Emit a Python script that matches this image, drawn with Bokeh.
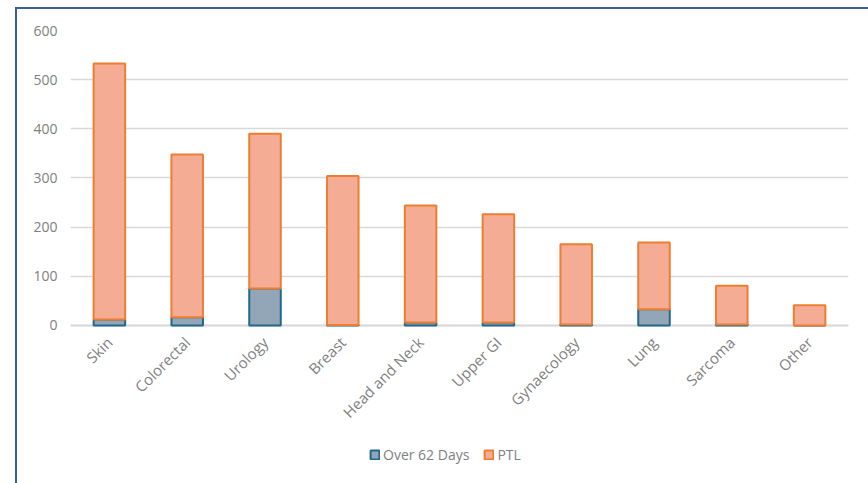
from bokeh.plotting import figure
from bokeh.models import ColumnDataSource, Legend, LegendItem, FixedTicker, Range1d
from bokeh.embed import file_html
from bokeh.resources import INLINE
import math

categories = ["Skin", "Colorectal", "Urology", "Breast", "Head and Neck", "Upper GI",
              "Gynaecology", "Lung", "Sarcoma", "Other"]
over_62_days = [12, 17, 75, 1, 6, 6, 2, 33, 2, 0]
ptl = [521, 331, 315, 303, 238, 220, 163, 136, 79, 41]
series_names = ["Over 62 Days", "PTL"]
y_ticks = [0, 100, 200, 300, 400, 500, 600]

source = ColumnDataSource(dict(cat=categories, over=over_62_days, ptl=ptl))

FONT = "Open Sans"
GREY = "#808080"

# frame runs to the bottom of the page; y=0 sits at 295 px below 600
p = figure(x_range=categories, y_range=Range1d(-321.4, 600),
           frame_width=778, frame_height=453, output_backend="svg", toolbar_location=None,
           min_border_left=53, min_border_top=21, min_border_right=20, min_border_bottom=0)
p.margin = (7, 0, 0, 15)
p.styles = {"border-left": "2px solid #3A5F92", "border-top": "2px solid #3A5F92"}

r = p.vbar_stack(["over", "ptl"], x="cat", width=0.405, source=source,
                 fill_color=["#93A6B7", "#F4AD94"],
                 line_color=["#22688E", "#ED7D31"], line_width=2)
for rr in r:
    rr.level = "annotation"

p.outline_line_color = None
p.xgrid.grid_line_color = None
p.ygrid.grid_line_color = "#D9D9D9"
p.ygrid.grid_line_width = 1.5
p.yaxis.ticker = FixedTicker(ticks=y_ticks)
p.yaxis.axis_line_color = None
p.yaxis.major_tick_line_color = None
p.yaxis.minor_tick_line_color = None
p.yaxis.major_label_text_color = GREY
p.yaxis.major_label_text_font = FONT
p.yaxis.major_label_text_font_size = "14px"
p.yaxis.major_label_standoff = 7

p.xaxis.fixed_location = 0
p.xaxis.axis_line_color = "#D9D9D9"
p.xaxis.axis_line_width = 2
p.xaxis.major_tick_line_color = None
p.xaxis.minor_tick_line_color = None
p.xaxis.major_label_orientation = math.pi / 4
p.xaxis.major_label_text_color = GREY
p.xaxis.major_label_text_font = FONT
p.xaxis.major_label_text_font_size = "15px"
p.xaxis.major_label_standoff = 8
p.x_range.range_padding = 0

legend = Legend(items=[LegendItem(label=series_names[0], renderers=[r[0]]),
                       LegendItem(label=series_names[1], renderers=[r[1]])],
                orientation="horizontal", location=(299, 19),
                label_text_color=GREY, label_text_font=FONT, label_text_font_size="14px",
                glyph_width=11, glyph_height=11, spacing=14, label_standoff=3,
                border_line_color=None, background_fill_alpha=0, margin=0, padding=4)
p.add_layout(legend, "center")

open("out.html", "w").write(file_html(p, INLINE))
